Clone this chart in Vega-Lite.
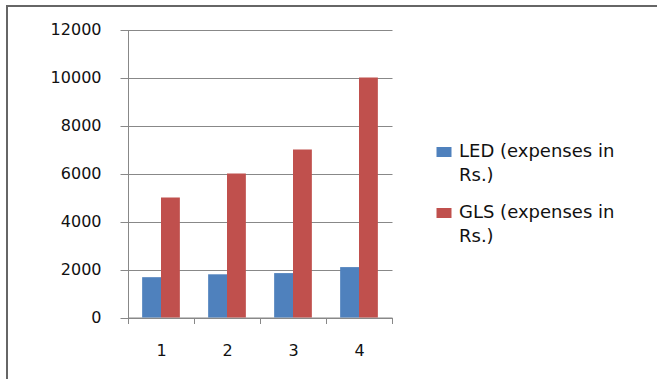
{
  "$schema": "https://vega.github.io/schema/vega-lite/v6.json",
  "width": 660,
  "height": 380,
  "autosize": "none",
  "padding": {"left": 7, "top": 6, "right": 0, "bottom": 0},
  "background": "white",
  "data": {
    "values": [
      {"n": "1", "series": "LED (expenses in Rs.)", "cost": 1680},
      {"n": "1", "series": "GLS (expenses in Rs.)", "cost": 5000},
      {"n": "2", "series": "LED (expenses in Rs.)", "cost": 1800},
      {"n": "2", "series": "GLS (expenses in Rs.)", "cost": 6000},
      {"n": "3", "series": "LED (expenses in Rs.)", "cost": 1850},
      {"n": "3", "series": "GLS (expenses in Rs.)", "cost": 7000},
      {"n": "4", "series": "LED (expenses in Rs.)", "cost": 2100},
      {"n": "4", "series": "GLS (expenses in Rs.)", "cost": 10000}
    ]
  },
  "mark": {"type": "bar"},
  "encoding": {
    "x": {
      "field": "n",
      "type": "nominal",
      "scale": {"range": [121, 385], "paddingInner": 0, "paddingOuter": 0},
      "axis": {
        "title": null,
        "labelAngle": 0,
        "offset": -68.5,
        "tickBand": "extent",
        "grid": false,
        "domainColor": "#888888",
        "tickColor": "#888888",
        "tickSize": 6,
        "labelPadding": 19,
        "labelFont": "DejaVu Sans",
        "labelFontSize": 16,
        "labelColor": "#111111"
      }
    },
    "xOffset": {
      "field": "series",
      "type": "nominal",
      "sort": ["LED (expenses in Rs.)", "GLS (expenses in Rs.)"],
      "scale": {"paddingInner": 0, "paddingOuter": 0.75}
    },
    "y": {
      "field": "cost",
      "type": "quantitative",
      "scale": {"domain": [0, 12000], "range": [311.5, 23.5], "nice": false},
      "axis": {
        "title": null,
        "values": [0, 2000, 4000, 6000, 8000, 10000, 12000],
        "format": "d",
        "offset": -121,
        "grid": true,
        "gridColor": "#888888",
        "domainColor": "#888888",
        "tickColor": "#888888",
        "tickSize": 8,
        "labelPadding": 19,
        "labelFont": "DejaVu Sans",
        "labelFontSize": 16,
        "labelColor": "#111111"
      }
    },
    "color": {
      "field": "series",
      "type": "nominal",
      "scale": {
        "domain": ["LED (expenses in Rs.)", "GLS (expenses in Rs.)"],
        "range": ["#4F81BD", "#C0504D"]
      },
      "legend": {
        "title": null,
        "orient": "none",
        "legendX": 428,
        "legendY": 137,
        "labelFont": "DejaVu Sans",
        "labelFontSize": 18,
        "labelColor": "#111111",
        "labelLimit": 400,
        "labelOffset": 6,
        "labelExpr": "[replace(datum.label, ' Rs.)', ''), 'Rs.)']",
        "symbolType": "M-1,-0.67H1V0.67H-1Z",
        "symbolSize": 225,
        "symbolStrokeWidth": 0,
        "symbolOpacity": 1,
        "rowPadding": 19
      }
    }
  },
  "config": {
    "view": {"stroke": "#666666", "strokeWidth": 2},
    "bar": {"opacity": 1},
    "style": {"guide-label": {"lineHeight": 24}}
  }
}
